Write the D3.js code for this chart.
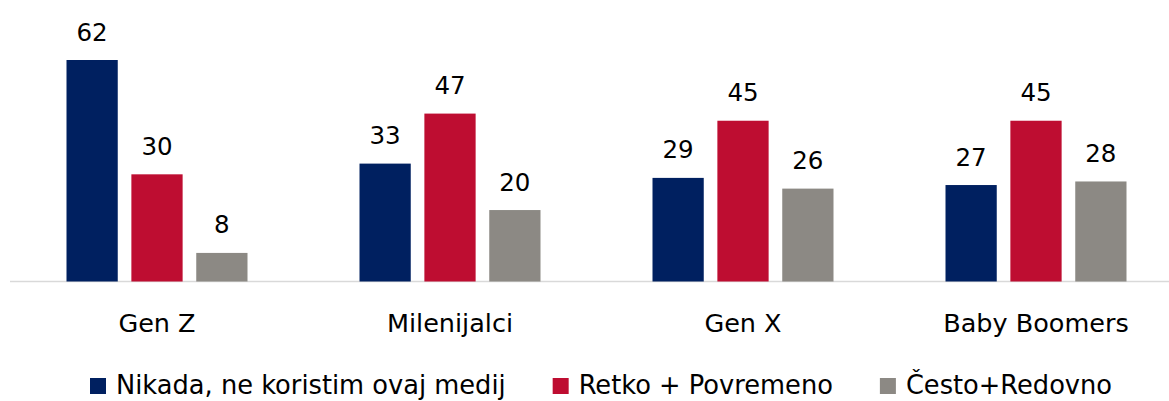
<!DOCTYPE html>
<html>
<head>
<meta charset="utf-8">
<script src="https://cdn.jsdelivr.net/npm/d3@7"></script>
<style>
  html, body { margin: 0; padding: 0; background: #fff; }
  svg { display: block; font-family: "DejaVu Sans", sans-serif; }
</style>
</head>
<body>
<div id="chart"></div>
<script>
const categories = ['Gen Z', 'Milenijalci', 'Gen X', 'Baby Boomers'];
const seriesNames = ['Nikada, ne koristim ovaj medij', 'Retko + Povremeno', 'Često+Redovno'];
const nikada = [62, 33, 29, 27];
const retko = [30, 47, 45, 45];
const cesto = [8, 20, 26, 28];
const colors = ['#002060', '#BE0D31', '#8C8984'];

const W = 1169, H = 401;
const base = 281.5;
const series = [nikada, retko, cesto];

const svg = d3.select('#chart').append('svg')
  .attr('width', W).attr('height', H);

// 4 groups of 293px starting at x=10.5
const x0 = d3.scaleBand().domain(categories).range([10.5, 10.5 + 4 * 293]).paddingInner(0).paddingOuter(0);
const x1 = d3.scaleBand().domain(d3.range(3)).range([56, 237]).paddingInner(0.21).paddingOuter(0);
const y = d3.scaleLinear().domain([0, 62]).range([base, 60]);

// baseline
svg.append('line')
  .attr('x1', 10).attr('x2', W).attr('y1', base).attr('y2', base)
  .attr('stroke', '#D9D9D9').attr('stroke-width', 1.5);

const groups = svg.selectAll('g.grp').data(categories).join('g')
  .attr('class', 'grp')
  .attr('transform', d => `translate(${x0(d)},0)`);

groups.each(function (cat, ci) {
  const g = d3.select(this);
  series.forEach((vals, si) => {
    const v = vals[ci];
    g.append('rect')
      .attr('x', x1(si)).attr('width', x1.bandwidth())
      .attr('y', y(v)).attr('height', base - y(v))
      .attr('fill', colors[si]);
    g.append('text')
      .attr('x', x1(si) + x1.bandwidth() / 2)
      .attr('y', y(v) - 19.5)
      .attr('text-anchor', 'middle')
      .attr('font-size', 24.5).attr('fill', '#000')
      .text(v);
  });
  g.append('text')
    .attr('x', x0.bandwidth() / 2)
    .attr('y', base + 50)
    .attr('text-anchor', 'middle')
    .attr('font-size', 25.5).attr('fill', '#000')
    .text(cat);
});

// legend
const legend = svg.append('g').attr('transform', 'translate(90, 394)');
let lx = 0;
seriesNames.forEach((name, i) => {
  const item = legend.append('g').attr('transform', `translate(${lx},0)`);
  item.append('rect').attr('x', 0).attr('y', -16).attr('width', 16).attr('height', 16).attr('fill', colors[i]);
  const t = item.append('text').attr('x', 26).attr('y', 0)
    .attr('font-size', 25.7).attr('fill', '#000').text(name);
  lx += 26 + t.node().getComputedTextLength() + 47;
});
</script>
</body>
</html>
